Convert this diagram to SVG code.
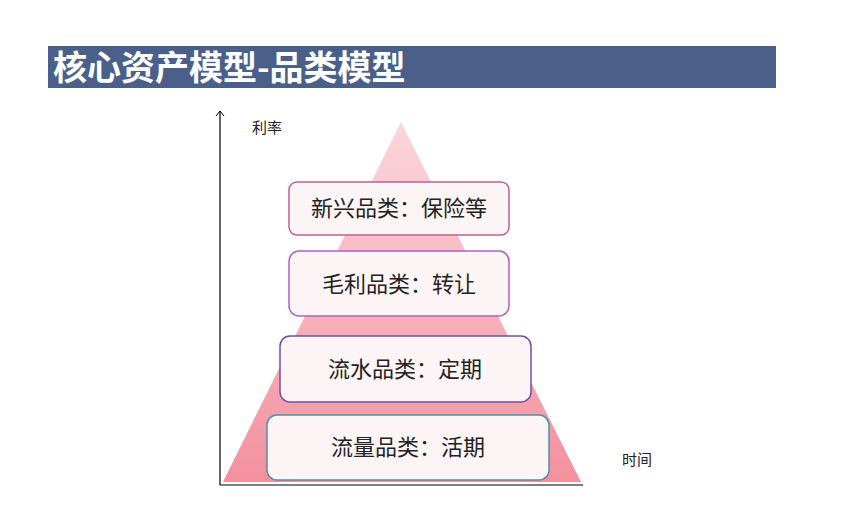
<svg xmlns="http://www.w3.org/2000/svg" width="845" height="507" viewBox="0 0 845 507">
<style>
text{font-family:"Noto Sans CJK SC","Noto Sans",sans-serif;fill:#222}
.box{fill:#fdf4f6;stroke-width:1.5}
.lbl{font-size:22px;text-anchor:middle}
</style>
<defs>
<linearGradient id="g" x1="0" y1="0" x2="0" y2="1">
<stop offset="0" stop-color="#fbd6dc"/><stop offset="1" stop-color="#f3909e"/>
</linearGradient>
<marker id="a" markerWidth="10" markerHeight="10" refX="9" refY="5" orient="auto" markerUnits="userSpaceOnUse">
<path d="M4,1 L9,5 L4,9" fill="none" stroke="#000" stroke-width="1"/>
</marker>
</defs>
<rect width="845" height="507" fill="#fff"/>
<g id="title">
<rect x="48" y="46" width="728" height="42" fill="#4a5f8a"/>
<text x="53" y="80" font-size="34" font-weight="bold" style="fill:#fff">核心资产模型-品类模型</text>
</g>
<g id="pyramid"><path d="M401,122 L581,482 L223,482 Z" fill="url(#g)"/></g>
<g id="connectors">
<line x1="220" y1="485" x2="220" y2="111" stroke="#000" stroke-width="1.2" marker-end="url(#a)"/>
<line x1="220" y1="485" x2="583" y2="485" stroke="#000" stroke-width="1.2"/>
</g>
<g id="yaxis"><text x="252" y="133" font-size="15">利率</text></g>
<g id="xaxis"><text x="622" y="465" font-size="15">时间</text></g>
<g id="n1"><rect class="box" x="289" y="182" width="220" height="53" rx="8" stroke="#c0608e"/><text class="lbl" x="399" y="216">新兴品类：保险等</text></g>
<g id="n2"><rect class="box" x="289" y="251" width="220" height="65" rx="10" stroke="#b060c0"/><text class="lbl" x="399" y="292">毛利品类：转让</text></g>
<g id="n3"><rect class="box" x="280" y="336" width="251" height="66" rx="10" stroke="#7050a8"/><text class="lbl" x="405" y="377">流水品类：定期</text></g>
<g id="n4"><rect class="box" x="267" y="415" width="282" height="65" rx="10" stroke="#5090a8"/><text class="lbl" x="408" y="455">流量品类：活期</text></g>
</svg>
